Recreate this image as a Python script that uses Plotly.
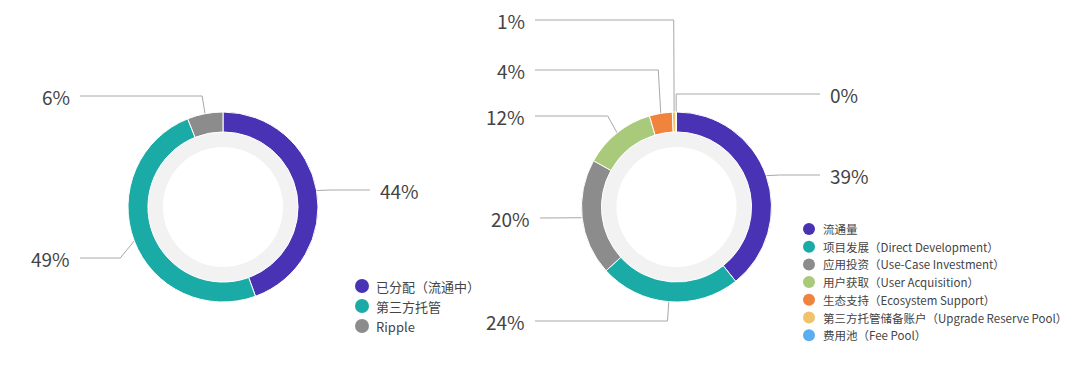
import math
import plotly.graph_objects as go

# ---------------- data ----------------
left_labels = ["已分配（流通中）", "第三方托管", "Ripple"]
left_values = [44, 49, 6]
left_colors = ["#4a32b4", "#1aaba6", "#8c8c8c"]

right_labels = ["流通量", "项目发展（Direct Development）", "应用投资（Use-Case Investment）",
                "用户获取（User Acquisition）", "生态支持（Ecosystem Support）",
                "第三方托管储备账户（Upgrade Reserve Pool）", "费用池（Fee Pool）"]
right_values = [39.3, 24.0, 19.8, 12.3, 3.9, 0.6, 0.1]
right_pct_text = ["39%", "24%", "20%", "12%", "4%", "1%", "0%"]
left_pct_text = ["44%", "49%", "6%"]
right_colors = ["#4a32b4", "#1aaba6", "#8c8c8c", "#a9c97b", "#f0843c", "#f0c36a", "#5aaef0"]

# ---------------- layout constants ----------------
VW, VH = 1080, 367          # browser window
OFF = 8                     # default page body margin
W, H = VW - 2 * OFF, VH - 2 * OFF
FONT = "Noto Sans CJK SC"
donuts = {
    "left": dict(cx=223, cy=207, r=95, hole=0.79),
    "right": dict(cx=676.5, cy=207, r=95, hole=0.79),
}
# per label: (label y, line end x, side)
left_label_layout = [(190, 370, "r"), (258, 80, "l"), (96, 80, "l")]
right_label_layout = [(175, 820, "r"), (321, 535, "l"), (218, 540, "l"), (116, 535, "l"),
                      (70, 535, "l"), (20, 535, "l"), (94, 820, "r")]
line_color = "#a8a8a8"

fig = go.Figure()


def dom(cx, cy, r):
    return dict(x=[(cx - r - OFF) / W, (cx + r - OFF) / W],
                y=[1 - (cy + r - OFF) / H, 1 - (cy - r - OFF) / H])


def add_donut(d, values, colors):
    cx, cy, r = d["cx"], d["cy"], d["r"]
    ri = r * d["hole"]
    fig.add_trace(go.Pie(values=[1], marker=dict(colors=["#f2f2f2"]), hole=0.8,
                         domain=dom(cx, cy, ri), textinfo="none", hoverinfo="skip",
                         showlegend=False, sort=False))
    fig.add_trace(go.Pie(values=values, marker=dict(colors=colors, line=dict(color="white", width=1)),
                         hole=d["hole"], domain=dom(cx, cy, r), textinfo="none", hoverinfo="skip",
                         showlegend=False, sort=False, direction="clockwise", rotation=0))


def add_labels(d, values, texts, layout):
    cx, cy, r = d["cx"], d["cy"], d["r"]
    total = sum(values)
    cum = 0
    for v, t, (ly, ex, side) in zip(values, texts, layout):
        mid = (cum + v / 2) / total * 2 * math.pi
        cum += v
        dx, dy = math.sin(mid), -math.cos(mid)
        sx, sy = cx + r * dx, cy + r * dy
        kx = sx + 15 * dx
        fig.add_trace(go.Scatter(x=[sx, kx, ex], y=[sy, ly, ly], mode="lines",
                                 line=dict(color=line_color, width=1),
                                 hoverinfo="skip", showlegend=False))
        if side == "r":
            fig.add_annotation(x=ex + 8, y=ly, text=t, xanchor="left", yanchor="middle",
                               showarrow=False, font=dict(size=19, color="#444", family=FONT))
        else:
            fig.add_annotation(x=ex - 8, y=ly, text=t, xanchor="right", yanchor="middle",
                               showarrow=False, font=dict(size=19, color="#444", family=FONT))


def add_legend(labels, colors, x0, y0, step, msize, fsize):
    ys = [y0 + i * step for i in range(len(labels))]
    fig.add_trace(go.Scatter(x=[x0] * len(labels), y=ys, mode="markers",
                             marker=dict(color=colors, size=msize), hoverinfo="skip", showlegend=False))
    for lab, y in zip(labels, ys):
        fig.add_annotation(x=x0 + 12, y=y, text=lab, xanchor="left", yanchor="middle", showarrow=False,
                           font=dict(size=fsize, color="#444", family=FONT))


add_donut(donuts["left"], left_values, left_colors)
add_donut(donuts["right"], right_values, right_colors)
add_labels(donuts["left"], left_values, left_pct_text, left_label_layout)
add_labels(donuts["right"], right_values, right_pct_text, right_label_layout)
add_legend(left_labels, left_colors, 362, 286, 20, 14, 13)
add_legend(right_labels, right_colors, 809, 229, 17.7, 12, 11.5)

fig.update_layout(
    width=W, height=H, margin=dict(l=0, r=0, t=0, b=0),
    paper_bgcolor="white", plot_bgcolor="rgba(0,0,0,0)",
    xaxis=dict(range=[OFF, OFF + W], visible=False, fixedrange=True),
    yaxis=dict(range=[OFF + H, OFF], visible=False, fixedrange=True),
    showlegend=False,
)
fig.write_html("out.html")
